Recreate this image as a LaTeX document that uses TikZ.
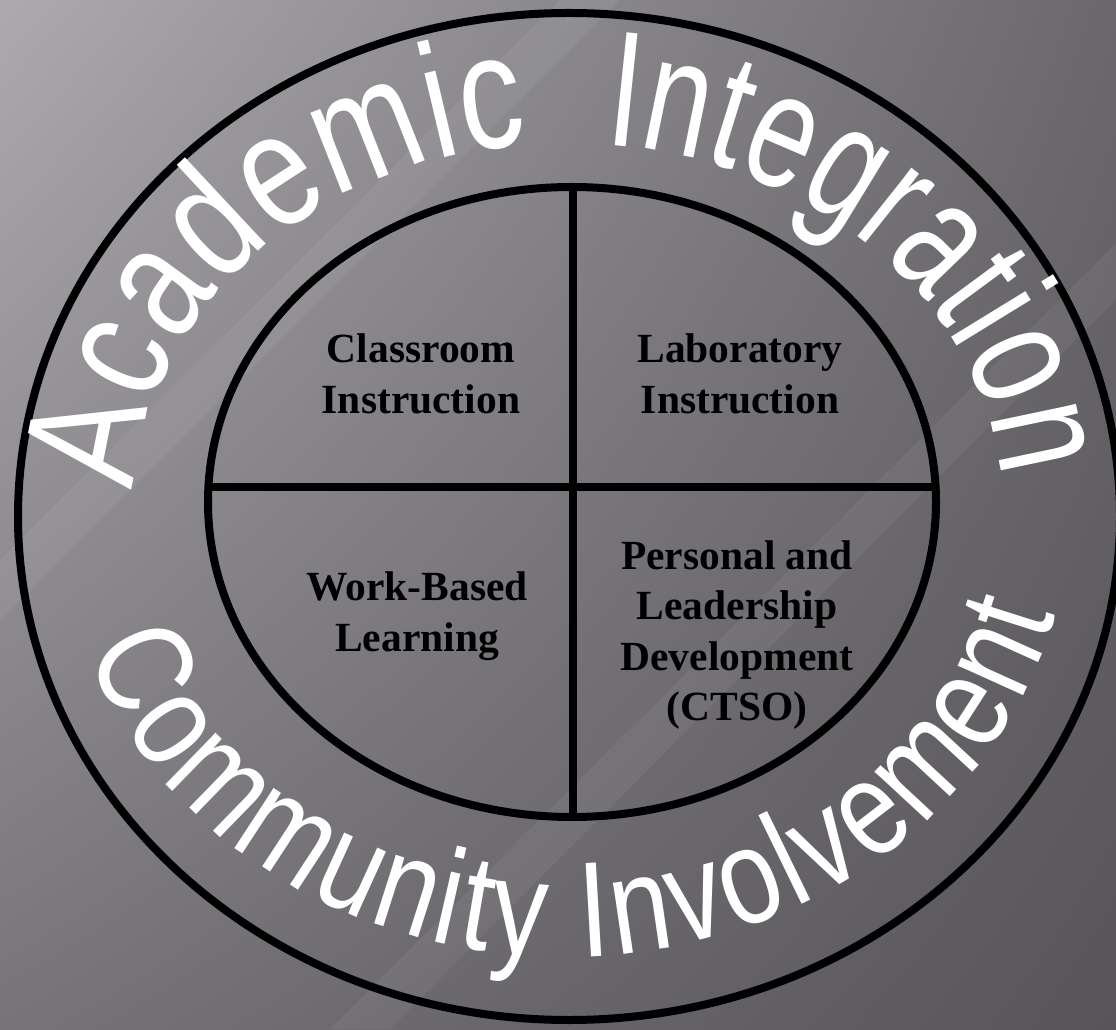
\documentclass[tikz,border=0pt]{standalone}
\usepackage{fontspec}
\setmainfont{Liberation Serif}
\newfontfamily\leftface[FakeStretch=0.78]{Liberation Sans}
\newfontfamily\topface[FakeStretch=0.71]{Liberation Sans}
\newfontfamily\botface[FakeStretch=0.8]{Liberation Sans}
\newcommand\leftfont{\leftface\fontsize{163}{163}\selectfont}
\newcommand\topfont{\topface\fontsize{165}{165}\selectfont}
\newcommand\botfont{\botface\fontsize{136}{136}\selectfont}
\usetikzlibrary{calc,shadings,decorations.text}
\definecolor{bgUL}{RGB}{172,170,175}
\definecolor{bgUR}{RGB}{106,104,109}
\definecolor{bgLL}{RGB}{118,116,121}
\definecolor{bgLR}{RGB}{88,85,90}
\tikzset{
	ring/.style={line width=8pt, color=black},
	quad/.style={font=\bfseries\fontsize{41.5}{50.5}\selectfont, align=center, text=black},
	ringtext/.style 2 args={decorate, decoration={text along path, text color=white,
		text align=fit to path, text={|#1|#2}}}
}

\begin{document}
\begin{tikzpicture}[x=1pt, y=1pt]
		%%%%% START %%%%%
		
		\useasboundingbox (0,0) rectangle (1116,1029);
		\shade[upper left=bgUL, upper right=bgUR, lower left=bgLL, lower right=bgLR] (0,0) rectangle (1116,1029);
		
		% light streaks
		\fill[white, opacity=0.06] (0,469) -- (560,1029) -- (620,1029) -- (0,409) -- cycle;
		\fill[white, opacity=0.05] (330,0) -- (1116,786) -- (1116,730) -- (390,0) -- cycle;
		
		% rings
		\coordinate (outerC) at (569,512.5);
		\coordinate (innerC) at (572,527);
		\draw[ring] (outerC) ellipse[x radius=551, y radius=503.5];
		\draw[ring] (innerC) ellipse[x radius=364, y radius=315];
		
		% quarters
		\coordinate (divW) at (208.4,542);
		\coordinate (divE) at (935.6,542);
		\coordinate (divN) at (573,842);
		\coordinate (divS) at (573,212);
		\draw[ring] (divW) -- (divE);
		\draw[ring] (divN) -- (divS);
		
		\node[quad] (classroom) at (421,655) {Classroom\\Instruction};
		\node[quad] (laboratory) at (740,655) {Laboratory\\Instruction};
		\node[quad] (workbased) at (417,413) {Work-Based\\Learning};
		\node[quad] (personal) at (737,394) {Personal and\\Leadership\\Development\\(CTSO)};
		
		% words round the ring
		\coordinate (topC) at (566,519);
		\coordinate (botC) at (565,524);
		\path[ringtext={\leftfont}{Academic}] ($(topC)+(177:432 and 367)$)
			arc[start angle=177, end angle=95, x radius=432, y radius=367];
		\path[ringtext={\topfont}{Integration}] ($(topC)+(85:437 and 367)$)
			arc[start angle=85, end angle=5, x radius=437, y radius=367];
		\path[ringtext={\botfont}{Community Involvement}] ($(botC)+(199:505 and 452)$)
			arc[start angle=199, end angle=346, x radius=505, y radius=452];
		
		%%%%% END %%%%%
	\end{tikzpicture}
\end{document}
